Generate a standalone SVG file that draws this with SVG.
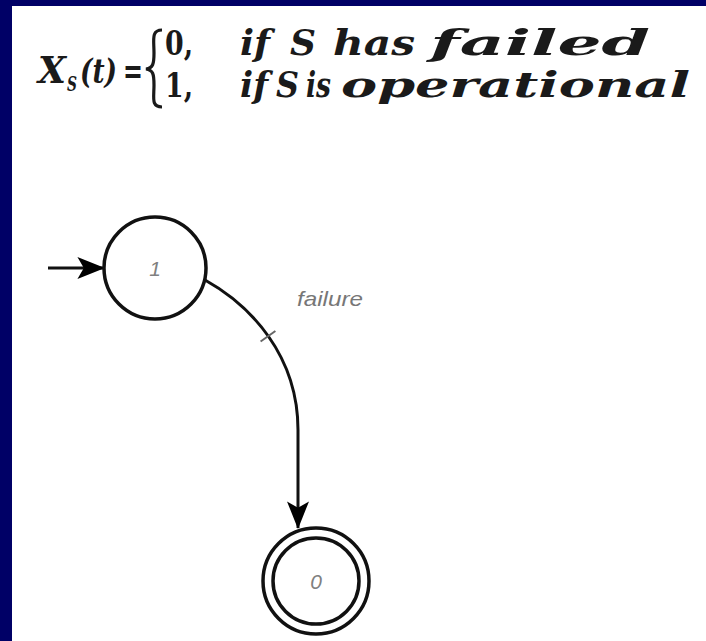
<svg xmlns="http://www.w3.org/2000/svg" width="706" height="641" viewBox="0 0 706 641">
<style>
.math{font-family:"DejaVu Serif","Liberation Serif",serif;font-weight:bold;fill:#1a1a1a;}
.it{font-style:italic;}
.state{fill:#fff;stroke:#111;stroke-width:3.5;}
.slabel{font-family:"Liberation Sans",Arial,sans-serif;font-style:italic;font-size:21px;fill:#808080;text-anchor:middle;}
.edge{fill:none;stroke:#111;stroke-width:3;}
.elabel{font-family:"Liberation Sans",Arial,sans-serif;font-style:italic;font-size:21px;fill:#777;}
</style>
<defs>
<marker id="arr" viewBox="0 0 30 24" refX="29" refY="12" markerWidth="28" markerHeight="22" markerUnits="userSpaceOnUse" orient="auto">
<path d="M0,0 L30,12 L0,24 L7,12 Z" fill="#000"/>
</marker>
</defs>
<rect x="0" y="0" width="706" height="641" fill="#fff"/>
<rect x="0" y="0" width="706" height="6" fill="#000066"/>
<rect x="0" y="0" width="12" height="641" fill="#000066"/>
<g id="formula">
<text class="math it" x="38" y="83" font-size="37" textLength="28" lengthAdjust="spacingAndGlyphs">X</text>
<text class="math it" x="67" y="91" font-size="21" textLength="10" lengthAdjust="spacingAndGlyphs">S</text>
<text class="math it" x="80" y="83" font-size="34" textLength="37" lengthAdjust="spacingAndGlyphs">(t)</text>
<text class="math" x="123" y="83" font-size="35" textLength="20" lengthAdjust="spacingAndGlyphs">=</text>
<path d="M162,30 C151,30 154,40 154,53 C154,64 153,68 146,69 C153,70 154,74 154,85 C154,98 151,107 162,107" fill="none" stroke="#1a1a1a" stroke-width="3.2"/>
<text class="math" x="165" y="55" font-size="34" textLength="28" lengthAdjust="spacingAndGlyphs">0,</text>
<text class="math" x="165" y="97" font-size="34" textLength="28" lengthAdjust="spacingAndGlyphs">1,</text>
<text class="math it" x="240" y="55" font-size="36" textLength="30" lengthAdjust="spacingAndGlyphs">if</text>
<text class="math it" x="290" y="55" font-size="36" textLength="26" lengthAdjust="spacingAndGlyphs">S</text>
<text class="math it" x="333" y="55" font-size="36" textLength="82" lengthAdjust="spacingAndGlyphs">has</text>
<text class="math it" x="430" y="55" font-size="36" textLength="220" lengthAdjust="spacingAndGlyphs">failed</text>
<text class="math it" x="240" y="97" font-size="36" textLength="28" lengthAdjust="spacingAndGlyphs">if</text>
<text class="math it" x="276" y="97" font-size="36" textLength="23" lengthAdjust="spacingAndGlyphs">S</text>
<text class="math it" x="306" y="97" font-size="36" textLength="25" lengthAdjust="spacingAndGlyphs">is</text>
<text class="math it" x="341" y="97" font-size="36" textLength="349" lengthAdjust="spacingAndGlyphs">operational</text>
</g>
<g id="connectors">
<path class="edge" d="M48,268 L104,268" marker-end="url(#arr)"/>
<path class="edge" d="M205,280 C250,305 298,355 298,430 L298,528" marker-end="url(#arr)"/>
<path d="M260.6,341.5 L275.4,331" stroke="#666" stroke-width="2"/>
<text class="elabel" x="297" y="306" textLength="66" lengthAdjust="spacingAndGlyphs">failure</text>
</g>
<g id="state-1">
<circle class="state" cx="155" cy="268" r="51"/>
<text class="slabel" x="155" y="276">1</text>
</g>
<g id="state-0">
<circle class="state" cx="316" cy="581" r="53"/>
<circle class="state" cx="316" cy="581" r="43"/>
<text class="slabel" x="316" y="589">0</text>
</g>
</svg>
